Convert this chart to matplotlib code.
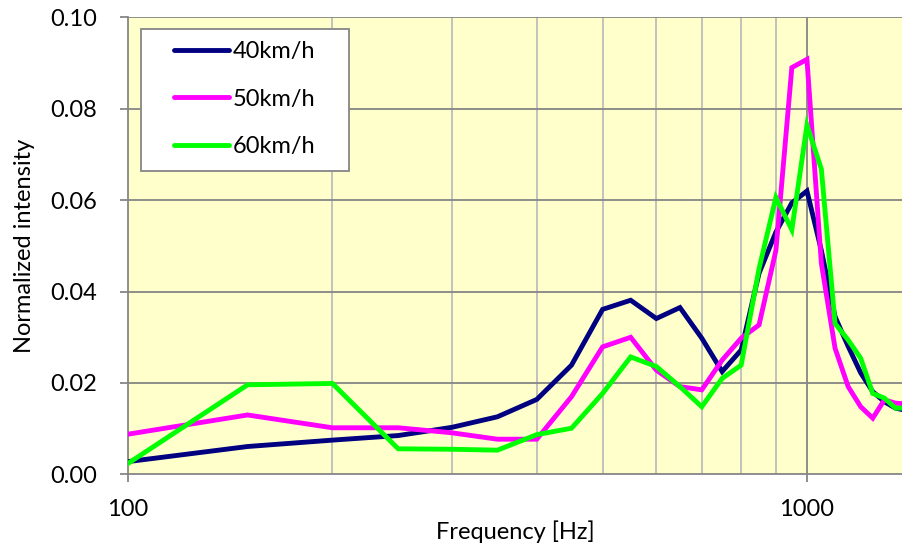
import matplotlib
matplotlib.use("Agg")
import matplotlib.pyplot as plt
from matplotlib.patches import Rectangle
from matplotlib.ticker import FixedLocator, NullFormatter, FixedFormatter

freqs = [100, 150, 200, 250, 300, 350, 400, 450, 500, 550, 600, 650, 700, 750,
         800, 850, 900, 950, 1000, 1050, 1100, 1150, 1200, 1250, 1300, 1350, 1400]
v40 = [0.0028, 0.0061, 0.0075, 0.0085, 0.0103, 0.0126, 0.0164, 0.0239, 0.0361, 0.0381,
       0.0341, 0.0365, 0.0298, 0.0225, 0.0272, 0.0440, 0.0530, 0.0594, 0.0620, 0.0490,
       0.0345, 0.0280, 0.0222, 0.0181, 0.0159, 0.0145, 0.0140]
v50 = [0.0088, 0.0130, 0.0102, 0.0102, 0.0091, 0.0077, 0.0077, 0.0170, 0.0279, 0.0300,
       0.0228, 0.0192, 0.0185, 0.0250, 0.0298, 0.0327, 0.0490, 0.0890, 0.0908, 0.0462,
       0.0276, 0.0192, 0.0148, 0.0123, 0.0163, 0.0156, 0.0154]
v60 = [0.0024, 0.0196, 0.0199, 0.0056, 0.0055, 0.0053, 0.0087, 0.0101, 0.0177, 0.0257,
       0.0236, 0.0192, 0.0148, 0.0210, 0.0239, 0.0450, 0.0606, 0.0535, 0.0764, 0.0668,
       0.0330, 0.0294, 0.0254, 0.0177, 0.0167, 0.0145, 0.0145]
labels = ["40km/h", "50km/h", "60km/h"]
colors = ["#000080", "#FF00FF", "#00FF00"]
yticks = [0.00, 0.02, 0.04, 0.06, 0.08, 0.10]
xmajor = [100, 1000]
xminor = [200, 300, 400, 500, 600, 700, 800, 900]

plt.rcParams['font.family'] = ['Lato', 'DejaVu Sans']

fig = plt.figure(figsize=(9.03, 5.46), dpi=100)
ax = fig.add_axes([128/903, 1-474.4/546, 1-128/903, (474.4-17.3)/546])
ax.set_facecolor("#FFFFCC")

for vals, lab, col in zip([v40, v50, v60], labels, colors):
    ax.plot(freqs, vals, color=col, lw=3.5, label=lab, solid_joinstyle='miter', zorder=3)

ax.set_xscale('log')
ax.set_xlim(100, 1385)
ax.set_ylim(0, 0.10)

ax.xaxis.set_major_locator(FixedLocator(xmajor))
ax.xaxis.set_major_formatter(FixedFormatter([str(v) for v in xmajor]))
ax.xaxis.set_minor_locator(FixedLocator(xminor))
ax.xaxis.set_minor_formatter(NullFormatter())
ax.set_yticks(yticks)
ax.set_yticklabels([f"{v:.2f}" for v in yticks])

for v in xminor:
    ax.axvline(v, color="#BDBDBD", lw=1.3, zorder=1)
for v in yticks[1:]:
    ax.axhline(v, color="#868686", lw=1.3, zorder=1)
ax.axvline(1000, color="#868686", lw=1.3, zorder=1)

for s in ['top', 'right']:
    ax.spines[s].set_visible(False)
for s in ['left', 'bottom']:
    ax.spines[s].set_color("#868686")
    ax.spines[s].set_linewidth(1.3)

ax.tick_params(axis='both', which='major', direction='out', length=6, width=1.3,
               color="#868686", labelsize=17, labelcolor='black')
ax.tick_params(axis='x', which='major', pad=12)
ax.tick_params(axis='y', which='major', pad=16)
ax.tick_params(axis='x', which='minor', length=0)

ax.set_xlabel("Frequency [Hz]", fontsize=17, labelpad=0)
ax.set_ylabel("Normalized intensity", fontsize=17, labelpad=11)

# legend frame
frame = Rectangle((13/775, 1-(170.7-17.3)/457.1), 208/775, (170.7-29.3)/457.1,
                  transform=ax.transAxes, facecolor='white', edgecolor='#868686',
                  lw=1.3, zorder=4)
ax.add_patch(frame)
leg = ax.legend(loc='upper left', bbox_to_anchor=((174-128)/775, 1-(41-17.3)/457.1),
                frameon=False, fontsize=17, handlelength=2.35,
                handletextpad=0.12, labelspacing=1.13, borderpad=0, borderaxespad=0)
leg.set_zorder(5)
for line in leg.get_lines():
    line.set_solid_capstyle('round')

fig.savefig("out.png", dpi=100)
